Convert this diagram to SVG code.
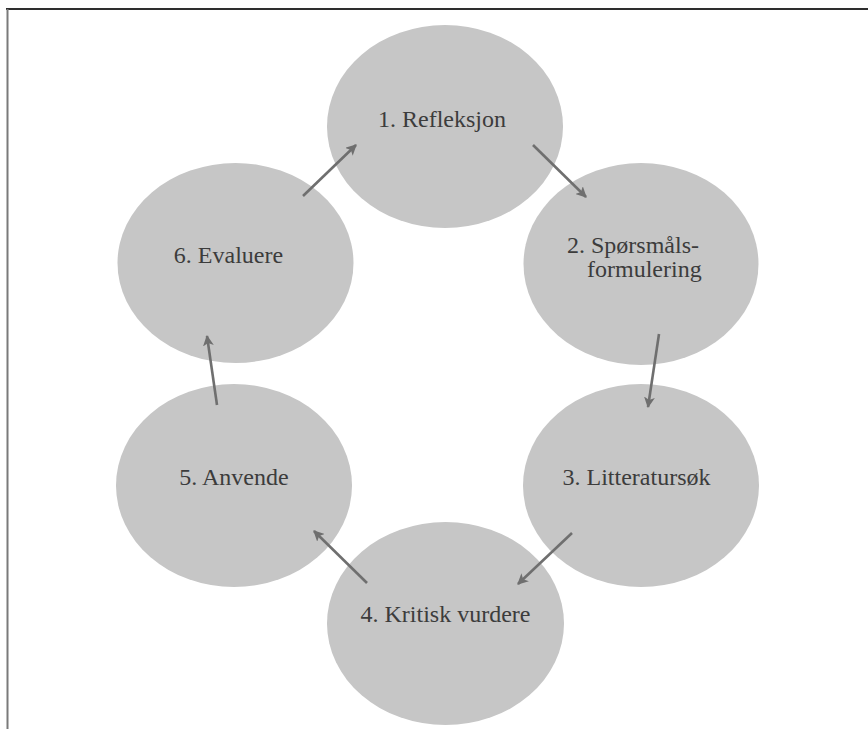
<svg xmlns="http://www.w3.org/2000/svg" width="868" height="729" viewBox="0 0 868 729">
<style>
.node ellipse{fill:#c6c6c6;}
.node text{font-family:"Liberation Serif","Times New Roman",serif;font-size:24px;fill:#3c3c3c;}
.edges line{stroke:#6f6f6f;stroke-width:2.6;marker-end:url(#ah);}
</style>
<defs>
<marker id="ah" viewBox="0 0 10 10" refX="9" refY="5" markerWidth="4.2" markerHeight="4.2" orient="auto" markerUnits="strokeWidth">
<path d="M0,0 L10,5 L0,10 L2.5,5 Z" fill="#6f6f6f"/>
</marker>
</defs>
<rect x="0" y="0" width="868" height="729" fill="#ffffff"/>
<line x1="6" y1="9" x2="868" y2="9" stroke="#2e2e2e" stroke-width="2.2"/>
<line x1="7.5" y1="9" x2="7.5" y2="729" stroke="#7a7a7a" stroke-width="2"/>
<g id="n1" class="node">
<ellipse cx="445" cy="126.5" rx="118" ry="101.5"/>
<text x="442" y="127" text-anchor="middle">1. Refleksjon</text>
</g>
<g id="n2" class="node">
<ellipse cx="641" cy="264" rx="117.5" ry="101"/>
<text x="567" y="253">2. Spørsmåls-</text>
<text x="587" y="277">formulering</text>
</g>
<g id="n3" class="node">
<ellipse cx="641" cy="485.5" rx="118" ry="101.5"/>
<text x="636.5" y="485" text-anchor="middle">3. Litteratursøk</text>
</g>
<g id="n4" class="node">
<ellipse cx="445.5" cy="623.5" rx="118.5" ry="101.5"/>
<text x="445.5" y="622" text-anchor="middle">4. Kritisk vurdere</text>
</g>
<g id="n5" class="node">
<ellipse cx="234" cy="485.5" rx="118" ry="101.5"/>
<text x="234" y="485" text-anchor="middle">5. Anvende</text>
</g>
<g id="n6" class="node">
<ellipse cx="235.5" cy="263" rx="118" ry="100"/>
<text x="228.5" y="263" text-anchor="middle">6. Evaluere</text>
</g>
<g id="edges" class="edges">
<line x1="303" y1="196" x2="356" y2="145"/>
<line x1="533" y1="145" x2="586" y2="197"/>
<line x1="659" y1="334" x2="648" y2="407"/>
<line x1="572" y1="533" x2="518" y2="584"/>
<line x1="367" y1="583" x2="314" y2="531"/>
<line x1="217" y1="405" x2="207" y2="336"/>
</g>
</svg>
